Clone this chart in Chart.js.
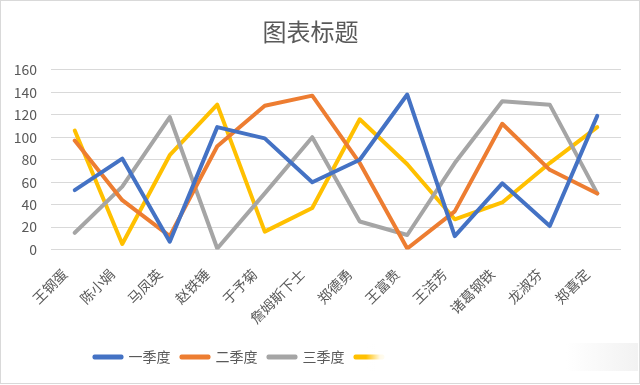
<!DOCTYPE html>
<html>
<head>
<meta charset="utf-8">
<script src="https://cdn.jsdelivr.net/npm/chart.js@4"></script>
<style>
  body { margin: 0; background: #fff; }
  #wrap { position: relative; width: 640px; height: 385px; }
  #frame { position: absolute; left: 0; top: 0; width: 638px; height: 382px; border: 1px solid #d9d9d9; pointer-events: none; }
  #fade { position: absolute; left: 366px; top: 343px; width: 272px; height: 28px; pointer-events: none;
    background: linear-gradient(to right, rgba(255,255,255,0) 0px, rgba(255,255,255,0.9) 14px, #fff 24px, #fff 200px, #f2f2f2 272px); }
</style>
</head>
<body>
<div id="wrap">
  <canvas id="lineChart" width="640" height="385"></canvas>
  <div id="fade"></div>
  <div id="frame"></div>
</div>
<script>
// names along the x axis
const names = ["王钢蛋", "陈小娟", "马凤英", "赵铁锤", "于予菊", "詹姆斯下士", "郑德勇", "王富贵", "王洁芳", "诸葛钢铁", "龙淑芬", "郑喜定"];

// quarter values
const q1 = [53, 81, 7, 109, 99, 60, 80, 138, 12, 59, 21, 119];
const q2 = [97, 44, 12, 92, 128, 137, 77, 1, 34, 112, 71, 50];
const q3 = [15, 56, 118, 1, 50, 100, 25, 13, 77, 132, 129, 50];
const q4 = [106, 5, 84, 129, 16, 37, 116, 76, 27, 42, 77, 109];

const seriesNames = ["一季度", "二季度", "三季度", "四季度"];
const colors = ["#4472C4", "#ED7D31", "#A5A5A5", "#FFC000"];

const fontFamily = "'Noto Sans CJK SC', 'Noto Sans', sans-serif";
const textColor = "#595959";

// move the legend row left, like the original
const legendShift = {
  id: "legendShift",
  afterLayout(chart) {
    chart.legend.right -= 95;
  },
};

function makeSet(i, values) {
  return {
    label: seriesNames[i],
    data: values,
    borderColor: colors[i],
    backgroundColor: colors[i],
    borderWidth: 4,
    pointRadius: 0,
    tension: 0,
    fill: false,
    borderJoinStyle: "round",
    borderCapStyle: "round",
  };
}

new Chart("lineChart", {
  type: "line",
  data: {
    labels: names,
    datasets: [makeSet(0, q1), makeSet(1, q2), makeSet(2, q3), makeSet(3, q4)],
  },
  plugins: [legendShift],
  options: {
    responsive: false,
    animation: false,
    layout: { padding: { left: 0, right: 19, top: 6, bottom: 11 } },
    plugins: {
      title: {
        display: true,
        text: "图表标题",
        color: textColor,
        font: { family: fontFamily, size: 24, weight: "normal" },
        padding: { top: 11, bottom: 24 },
      },
      legend: {
        display: true,
        position: "bottom",
        labels: {
          color: textColor,
          font: { family: fontFamily, size: 14 },
          boxWidth: 27,
          boxHeight: 1,
          padding: 11,
        },
      },
      tooltip: { enabled: false },
    },
    scales: {
      x: {
        offset: true,
        grid: { display: false },
        border: { display: false },
        afterFit(scale) {
          scale.height += 4;
        },
        ticks: {
          color: textColor,
          font: { family: fontFamily, size: 14 },
          maxRotation: 45,
          minRotation: 45,
          autoSkip: false,
          padding: 8,
          labelOffset: -10,
        },
      },
      y: {
        min: 0,
        max: 160,
        afterFit(scale) {
          scale.width = 51;
        },
        grid: { color: "#d9d9d9", lineWidth: 1, drawTicks: false },
        border: { display: false },
        ticks: {
          stepSize: 20,
          color: textColor,
          font: { family: fontFamily, size: 14 },
          padding: 14,
        },
      },
    },
  },
});
</script>
</body>
</html>
